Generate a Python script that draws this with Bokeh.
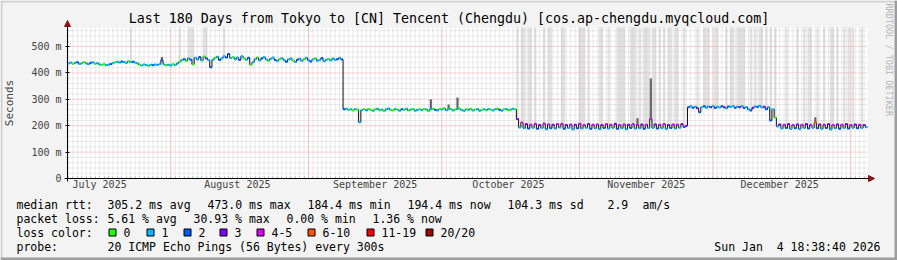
import math
from datetime import datetime, timedelta
from bokeh.plotting import figure
from bokeh.models import (ColumnDataSource, Range1d, FixedTicker, CustomJSTickFormatter,
                          DatetimeTickFormatter, Label, Arrow, NormalHead, BoxAnnotation)
from bokeh.embed import file_html
from bokeh.resources import INLINE

# ---------------- data ----------------
TITLE = "Last 180 Days from Tokyo to [CN] Tencent (Chengdu) [cos.ap-chengdu.myqcloud.com]"
END_TIME = datetime(2026, 1, 4, 18, 38, 40)
SPAN_DAYS = 180
BIN_HOURS = 12

# median RTT per 12h bin (ms)
rtt_ms = [
    436, 439, 435, 438, 440, 434, 437, 441, 436, 433, 438, 440, 435, 437, 432, 430, 433, 429, 431, 434,
    437, 440, 442, 439, 443, 441, 438, 444, 440, 442, 439, 436, 431, 428, 432, 430, 427, 431, 429, 432,
    430, 433, 448, 432, 429, 431, 428, 433, 430, 436, 442, 448, 452, 446, 455, 450, 432, 457, 451, 460,
    447, 462, 455, 449, 421, 450, 457, 461, 449, 455, 463, 458, 472, 456, 460, 452, 458, 449, 463, 455,
    450, 457, 431, 440, 452, 458, 447, 455, 460, 451, 446, 454, 458, 449, 445, 452, 456, 448, 442, 451,
    455, 447, 441, 450, 454, 446, 452, 457, 448, 443, 451, 455, 446, 449, 456, 444, 450, 453, 447, 455,
    449, 452, 457, 451, 262, 264, 260, 262, 258, 263, 261, 213, 259, 262, 258, 263, 260, 257, 262, 264,
    259, 261, 256, 262, 265, 260, 258, 263, 261, 257, 262, 260, 264, 258, 261, 263, 257, 260, 262, 259,
    263, 261, 256, 262, 264, 260, 258, 263, 261, 266, 259, 262, 264, 258, 261, 263, 265, 259, 257, 262,
    260, 264, 258, 261, 263, 257, 260, 262, 259, 263, 261, 258, 262, 264, 260, 257, 262, 263, 259, 261,
    264, 262, 225, 193, 212, 190, 206, 189, 204, 192, 207, 188, 203, 191, 208, 187, 205, 190, 204, 189,
    206, 193, 207, 188, 203, 191, 205, 186, 204, 190, 207, 189, 203, 192, 206, 188, 204, 190, 205, 187,
    203, 191, 206, 189, 204, 192, 207, 188, 203, 190, 205, 187, 204, 191, 206, 189, 203, 190, 205, 188,
    204, 191, 226, 192, 205, 189, 204, 190, 206, 188, 203, 191, 205, 189, 204, 192, 206, 195, 200, 270,
    274, 268, 272, 266, 251, 270, 274, 268, 273, 270, 275, 267, 272, 269, 274, 270, 266, 273, 271, 275,
    268, 272, 270, 274, 267, 271, 262, 258, 268, 273, 271, 276, 269, 272, 262, 270, 220, 262, 230, 197,
    205, 189, 204, 191, 206, 188, 203, 190, 205, 187, 204, 191, 206, 189, 203, 192, 212, 190, 205, 188,
    204, 191, 206, 186, 203, 190, 205, 188, 204, 191, 206, 189, 203, 192, 205, 190, 204, 191, 203, 194,
]

# loss colour class per bin (index into loss_labels)
loss_class = [
    1, 1, 0, 1, 2, 1, 1, 0, 1, 1, 2, 1, 0, 1, 1, 0, 0, 1, 1, 2,
    1, 0, 1, 1, 2, 1, 1, 0, 1, 2, 1, 1, 0, 1, 1, 1, 0, 1, 2, 1,
    1, 1, 2, 1, 0, 1, 1, 0, 1, 1, 0, 1, 2, 0, 1, 2, 0, 1, 1, 2,
    1, 0, 2, 1, 2, 1, 0, 1, 2, 1, 1, 2, 2, 1, 0, 1, 1, 2, 1, 0,
    1, 2, 0, 1, 1, 0, 1, 2, 1, 1, 0, 1, 1, 2, 1, 0, 1, 1, 2, 1,
    1, 0, 1, 2, 1, 1, 0, 1, 1, 2, 1, 0, 1, 1, 2, 1, 1, 0, 1, 1,
    1, 2, 1, 2, 2, 1, 0, 1, 0, 1, 0, 1, 1, 0, 1, 0, 0, 1, 0, 1,
    0, 1, 0, 1, 1, 0, 0, 1, 0, 1, 2, 0, 1, 0, 1, 0, 1, 1, 0, 1,
    0, 1, 0, 1, 0, 2, 1, 0, 1, 0, 1, 1, 0, 1, 0, 1, 0, 1, 1, 0,
    1, 0, 1, 0, 1, 1, 0, 1, 0, 1, 0, 1, 1, 0, 2, 1, 0, 1, 0, 1,
    1, 0, 3, 1, 4, 1, 3, 2, 4, 1, 4, 2, 3, 1, 4, 1, 4, 2, 3, 1,
    4, 1, 4, 2, 3, 1, 4, 1, 3, 2, 4, 1, 4, 1, 3, 2, 4, 1, 4, 1,
    3, 2, 4, 1, 4, 1, 3, 2, 4, 1, 4, 1, 3, 2, 4, 1, 4, 1, 3, 2,
    4, 1, 4, 1, 3, 2, 4, 1, 4, 1, 3, 2, 4, 1, 4, 1, 3, 2, 3, 2,
    1, 2, 1, 3, 2, 1, 2, 1, 1, 3, 1, 2, 1, 1, 2, 3, 1, 2, 1, 1,
    2, 1, 3, 1, 2, 1, 1, 2, 3, 1, 2, 1, 1, 3, 2, 1, 2, 1, 0, 1,
    3, 1, 4, 2, 3, 1, 4, 2, 3, 1, 4, 1, 3, 2, 4, 1, 5, 2, 3, 1,
    4, 2, 3, 1, 4, 1, 3, 2, 4, 1, 3, 2, 4, 1, 3, 2, 4, 1, 3, 1,
]

# bins whose slowest pings went beyond the top of the chart (light smoke)
outlier_bins = [28, 50, 54, 55, 56, 61, 62, 70, 202, 204, 205, 207, 208, 210, 214, 216, 217,
                222, 223, 230, 231, 232, 234, 239, 240, 243, 247, 248, 249, 250, 253, 254, 255,
                257, 259, 260, 261, 263, 264, 266, 268, 270, 271, 273, 274, 277, 283, 286, 287,
                288, 291, 292, 296, 298, 299, 301, 302, 303, 304, 307, 309, 311, 312, 314, 316,
                318, 323, 328, 331, 333, 334, 337, 340, 343, 344, 346, 349, 351, 353, 357]
# bins with a visible smoke spike, and the spike's top (ms)
spike_bins = [42, 163, 171, 175, 256, 262, 336]
spike_top_ms = [460, 300, 280, 307, 228, 379, 232]

loss_labels = ["0", "1", "2", "3", "4-5", "6-10", "11-19", "20/20"]
loss_colors = ["#26ff00", "#00b8ff", "#0059ff", "#7e00ff", "#dd00ff", "#ff5500", "#ff0000", "#a10000"]

y_ticks_ms = [0, 100, 200, 300, 400, 500]
Y_TOP_MS = 572
month_label_days = [datetime(2025, 7, 16), datetime(2025, 8, 16), datetime(2025, 9, 16),
                    datetime(2025, 10, 16), datetime(2025, 11, 16), datetime(2025, 12, 16)]
month_starts = [datetime(2025, 8, 1), datetime(2025, 9, 1), datetime(2025, 10, 1),
                datetime(2025, 11, 1), datetime(2025, 12, 1), datetime(2026, 1, 1)]

rtt_head = "median rtt:"
rtt_stats = ["305.2 ms avg", "473.0 ms max", "184.4 ms min", "194.4 ms now", "104.3 ms sd", "2.9", "am/s"]
loss_head = "packet loss:"
loss_stats = ["5.61 % avg", "30.93 % max", "0.00 % min", "1.36 % now"]
color_head = "loss color:"
probe_head = "probe:"
probe_text = "20 ICMP Echo Pings (56 Bytes) every 300s"
date_text = "Sun Jan \u00a04 18:38:40 2026"
watermark = "RRDTOOL / TOBI OETIKER"

# ---------------- build ----------------
EPOCH = datetime(1970, 1, 1)


def ms(t):
    return (t - EPOCH).total_seconds() * 1000.0


t_end = END_TIME
t0 = t_end - timedelta(days=SPAN_DAYS)
bw = timedelta(hours=BIN_HOURS)
x0 = [t0 + i * bw for i in range(len(rtt_ms))]
x1 = [t + bw for t in x0]

FONT = "DejaVu Sans Mono"
BG = "#f3f3f3"
SHADE_A, SHADE_B = "#cfcfcf", "#9e9e9e"
W, H = 897, 260
AX_L, AX_R, AX_T, AX_B = 67, 867, 27, 178      # plot area in canvas pixels
px_ms = (ms(t_end) - ms(t0)) / (AX_R - AX_L)
px_v = Y_TOP_MS / (AX_B - AX_T)


def dx(px):
    return ms(t0) + (px - AX_L) * px_ms


def dy(py):
    return (AX_B - py) * px_v


# the frame covers the whole canvas; axes sit at fixed locations on the plot area's edges
p = figure(width=W, height=H, x_axis_type="datetime", output_backend="svg", toolbar_location=None,
           x_range=Range1d(dx(0), dx(W)), y_range=Range1d(dy(H), dy(0)),
           min_border_left=0, min_border_right=0, min_border_top=0, min_border_bottom=0,
           background_fill_color=BG, border_fill_color=BG, outline_line_color=None)
p.xgrid.visible = False
p.ygrid.visible = False

# plot area background
p.quad(left=[t0], right=[t_end], bottom=[0], top=[Y_TOP_MS], fill_color="white",
       line_color=None, level="image")

day_ticks = []
d = datetime(t0.year, t0.month, t0.day) + timedelta(days=1)
while d < t_end:
    day_ticks.append(d)
    d += timedelta(days=1)
y_minor = [v for v in range(0, Y_TOP_MS, 20) if v % 100]

# grid (dotted), limited to the plot area
p.segment(x0=day_ticks, y0=[0] * len(day_ticks), x1=day_ticks, y1=[Y_TOP_MS] * len(day_ticks),
          line_color="#d4d4d4", line_dash="1 1", line_width=1, level="underlay")
p.segment(x0=[t0] * len(y_minor), y0=y_minor, x1=[t_end] * len(y_minor), y1=y_minor,
          line_color="#d4d4d4", line_dash="1 1", line_width=1, level="underlay")
p.segment(x0=month_starts, y0=[0] * len(month_starts), x1=month_starts,
          y1=[Y_TOP_MS] * len(month_starts), line_color="#f4a0a0", line_dash="1 1",
          line_width=1, level="underlay")
p.segment(x0=[t0] * len(y_ticks_ms), y0=y_ticks_ms, x1=[t_end] * len(y_ticks_ms), y1=y_ticks_ms,
          line_color="#f4a0a0", line_dash="1 1", line_width=1, level="underlay")

# axes
p.xaxis.fixed_location = 0
p.xaxis.bounds = (ms(t0), ms(t_end))
p.xaxis.ticker = FixedTicker(ticks=[ms(t) for t in month_label_days],
                             minor_ticks=[ms(t) for t in day_ticks])
p.xaxis.formatter = DatetimeTickFormatter(
    milliseconds="%B %Y", seconds="%B %Y", minsec="%B %Y", minutes="%B %Y", hourmin="%B %Y",
    hours="%B %Y", days="%B %Y", months="%B %Y", years="%B %Y")
p.xaxis.major_tick_line_color = None
p.xaxis.major_tick_in = 0
p.xaxis.major_tick_out = 0
p.xaxis.minor_tick_in = 2
p.xaxis.minor_tick_out = 0
p.xaxis.minor_tick_line_color = "#b8b8b8"
p.xaxis.major_label_text_font = FONT
p.xaxis.major_label_text_font_size = "10px"
p.xaxis.major_label_standoff = 0
p.xaxis.axis_line_color = "black"

p.yaxis.fixed_location = ms(t0)
p.yaxis.bounds = (0, Y_TOP_MS)
p.yaxis.ticker = FixedTicker(ticks=y_ticks_ms, minor_ticks=y_minor)
p.yaxis.formatter = CustomJSTickFormatter(code="return tick == 0 ? '0' : tick + ' m';")
p.yaxis.major_label_text_font = FONT
p.yaxis.major_label_text_font_size = "10px"
p.yaxis.major_tick_in = 2
p.yaxis.major_tick_out = 2
p.yaxis.major_tick_line_color = "black"
p.yaxis.minor_tick_in = 1
p.yaxis.minor_tick_out = 1
p.yaxis.minor_tick_line_color = "#b8b8b8"
p.yaxis.major_label_standoff = 4
p.yaxis.axis_label = "Seconds"
p.yaxis.axis_label_text_font = FONT
p.yaxis.axis_label_text_font_size = "11px"
p.yaxis.axis_label_text_font_style = "normal"
p.yaxis.axis_label_standoff = 12
p.yaxis.axis_line_color = "black"

# smoke
p.quad(left=[x0[b] for b in outlier_bins], right=[x1[b] for b in outlier_bins],
       bottom=[rtt_ms[b] for b in outlier_bins], top=[Y_TOP_MS] * len(outlier_bins),
       fill_color="#c8c8c8", fill_alpha=0.55, line_color=None)
p.quad(left=[x0[b] for b in spike_bins], right=[x1[b] for b in spike_bins],
       bottom=[rtt_ms[b] for b in spike_bins], top=spike_top_ms,
       fill_color="#666666", line_color=None)

# median line
p.step(x=x0 + [t_end], y=rtt_ms + [rtt_ms[-1]], mode="after", line_color="#111111", line_width=1)
src = ColumnDataSource(dict(x0=x0, x1=x1, y=rtt_ms, c=[loss_colors[k] for k in loss_class]))
p.segment(x0="x0", y0="y", x1="x1", y1="y", line_color="c", line_width=2, source=src)

# axis arrows
ARROW_C = "#8b1414"
p.add_layout(Arrow(end=NormalHead(size=6, fill_color=ARROW_C, line_color=ARROW_C),
                   x_start=dx(AX_L), y_start=dy(181), x_end=dx(AX_L), y_end=dy(20),
                   line_color="black", line_width=1))
p.add_layout(Arrow(end=NormalHead(size=6, fill_color=ARROW_C, line_color=ARROW_C),
                   x_start=dx(64), y_start=0, x_end=dx(874), y_end=0,
                   line_color="black", line_width=1))


def txt(x, y, s, size="11.5px", align="left", color="black", angle=0.0):
    p.add_layout(Label(x=dx(x), y=dy(y), text=s, text_font=FONT, text_font_size=size,
                       text_align=align, text_baseline="middle", text_color=color, angle=angle))


def box(l, r, t, b, fill, line=None):
    p.add_layout(BoxAnnotation(left=dx(l), right=dx(r), top=dy(t), bottom=dy(b),
                               fill_color=fill, fill_alpha=1.0, line_color=line,
                               line_alpha=1.0, line_width=1, level="overlay"))


# title and watermark
txt(W / 2, 18, TITLE, size="13.3px", align="center")
txt(888, 3, watermark, size="8.5px", color="#b4b4b4", angle=-math.pi / 2)

# legend
ROW = [204, 218, 232, 246]
txt(16, ROW[0], rtt_head)
for xx, s in zip([107, 207, 307, 407, 507, 607, 642], rtt_stats):
    txt(xx, ROW[0], s)
txt(16, ROW[1], loss_head)
for xx, s in zip([107, 193, 286, 372], loss_stats):
    txt(xx, ROW[1], s)
txt(16, ROW[2], color_head)
for xx, lab, col in zip([108, 146, 183, 219, 256, 307, 366, 425], loss_labels, loss_colors):
    box(xx + 0.5, xx + 7.5, ROW[2] - 3.5, ROW[2] + 3.5, col, "black")
    txt(xx + 15, ROW[2], lab)
txt(16, ROW[3], probe_head)
txt(107, ROW[3], probe_text)
txt(880, ROW[3], date_text, align="right")

# canvas edge shading
box(0, W, 0, 2, SHADE_A)
box(0, 2, 0, H, SHADE_A)
box(0, W, H - 3, H, SHADE_B)
box(W - 3, W, 0, H, SHADE_B)

open("out.html", "w").write(file_html(p, INLINE))
